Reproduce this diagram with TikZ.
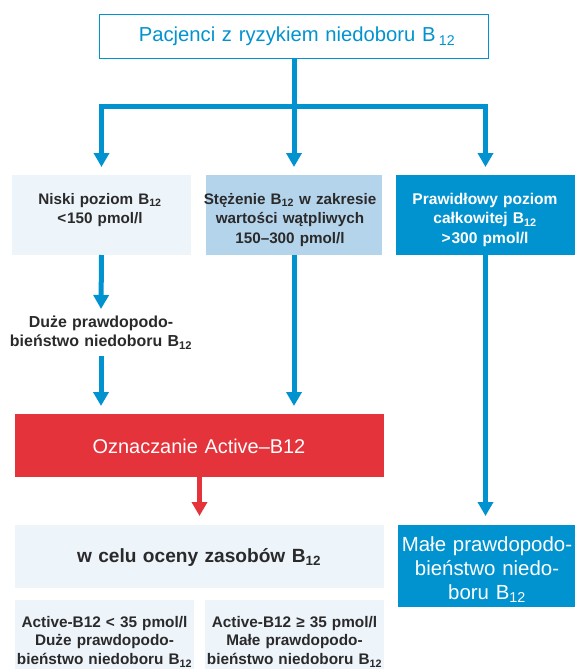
\documentclass[tikz,border=0pt]{standalone}
\usepackage{fontspec}
\newfontfamily\mf{Liberation Sans Bold}
\newfontfamily\mfl{Liberation Sans}
\usetikzlibrary{arrows.meta}
\definecolor{cblue}{HTML}{0093D0}
\definecolor{lblue}{HTML}{B4D4EC}
\definecolor{pale}{HTML}{EDF4FA}
\definecolor{cred}{HTML}{E5333B}
\definecolor{dtext}{HTML}{2B2A2B}
\newcommand\sbs[1]{\textsubscript{#1}}
\tikzset{
  boxs/.style={inner sep=0pt, outer sep=0pt, anchor=north west, draw=none},
  txt/.style={inner sep=0pt, outer sep=0pt, anchor=base, align=center, text width=#1, text=dtext},
  txt/.default=200bp,
  arr/.style={draw=cblue, line width=5bp, -{Triangle[width=15bp,length=14bp]}},
  rarr/.style={draw=cred, line width=5bp, -{Triangle[width=15bp,length=14bp]}},
  ln/.style={draw=cblue, line width=5bp}
}
\begin{document}
\begin{tikzpicture}[x=1bp,y=-1bp]
\useasboundingbox (0,0) rectangle (575,669);
% boxes
\node[boxs, draw=cblue, line width=1.2bp, fill=white, minimum width=389bp, minimum height=44bp] (top) at (99.6,14.6) {};
\node[boxs, fill=pale, minimum width=179bp, minimum height=80bp] (A) at (12,175) {};
\node[boxs, fill=lblue, minimum width=176bp, minimum height=80bp] (B) at (206,175) {};
\node[boxs, fill=cblue, minimum width=179bp, minimum height=80bp] (C) at (396,175) {};
\node[boxs, fill=cred, minimum width=369bp, minimum height=63bp] (R) at (15,414) {};
\node[boxs, fill=pale, minimum width=369bp, minimum height=63bp] (W) at (15,525) {};
\node[boxs, fill=cblue, minimum width=177bp, minimum height=82bp] (M) at (398,525) {};
\node[boxs, fill=pale, minimum width=179bp, minimum height=69bp] (L1) at (15,600) {};
\node[boxs, fill=pale, minimum width=179bp, minimum height=69bp] (L2) at (205,600) {};
% texts
\node[txt=380bp, text=cblue, font=\mfl\fontsize{20.3}{23}\selectfont] (topt) at (297,42) {Pacjenci z ryzykiem niedoboru B\,\sbs{12}};
\node[txt, font=\mf\fontsize{15.3}{20}\selectfont] (At) at (100,204) {Niski poziom B\sbs{12}\\<\kern1bp150 pmol/l};
\node[txt, font=\mf\fontsize{15.3}{20}\selectfont] (Bt) at (290,204) {Stężenie B\sbs{12} w zakresie\\wartości wątpliwych\\150–300 pmol/l};
\node[txt, text=white, font=\mf\fontsize{15.6}{20}\selectfont] (Ct) at (485,204) {Prawidłowy poziom\\całkowitej B\sbs{12}\\>\kern1bp300 pmol/l};
\node[txt=200bp, font=\mf\fontsize{16}{20}\selectfont] (D) at (101,327) {Duże prawdopodo-\\bieństwo niedoboru B\sbs{12}};
\node[txt=360bp, text=white, font=\mfl\fontsize{20}{23}\selectfont] (Rt) at (199,453) {Oznaczanie Active–B12};
\node[txt=360bp, font=\mf\fontsize{19.2}{24}\selectfont] (Wt) at (199,562) {w celu oceny zasobów B\sbs{12}};
\node[txt, text=white, font=\mfl\fontsize{20.5}{24.5}\selectfont] (Mt) at (487,551) {Małe prawdopodo-\\bieństwo niedo-\\boru B\sbs{12}};
\node[txt, font=\mf\fontsize{15.4}{19}\selectfont] (L1t) at (104.5,627) {Active-B12 < 35 pmol/l\\Duże prawdopodo-\\bieństwo niedoboru B\sbs{12}};
\node[txt, font=\mf\fontsize{15.4}{19}\selectfont] (L2t) at (294.5,627) {Active-B12 ≥ 35 pmol/l\\Małe prawdopodo-\\bieństwo niedoboru B\sbs{12}};
% connectors
\coordinate (j) at (294,107);
\draw[ln] (top.south -| j) -- (j);
\draw[arr, shorten >=8bp] (j) -| (A.north);
\draw[arr, shorten >=8bp] (j) -- (j |- B.north);
\draw[arr, shorten >=8bp] (j) -| (C.north);
\coordinate (dtop) at (101,309);
\coordinate (dbot) at (101,356);
\draw[arr] (A.south) -- (dtop);
\draw[arr, shorten >=8bp] (dbot) -- (dbot |- R.north);
\draw[arr, shorten >=8bp] (B.south) -- (B.south |- R.north);
\draw[rarr, shorten >=9bp] (R.south) -- (W.north);
\draw[arr, shorten >=9bp] (C.south) -- (C.south |- M.north);
\end{tikzpicture}
\end{document}
